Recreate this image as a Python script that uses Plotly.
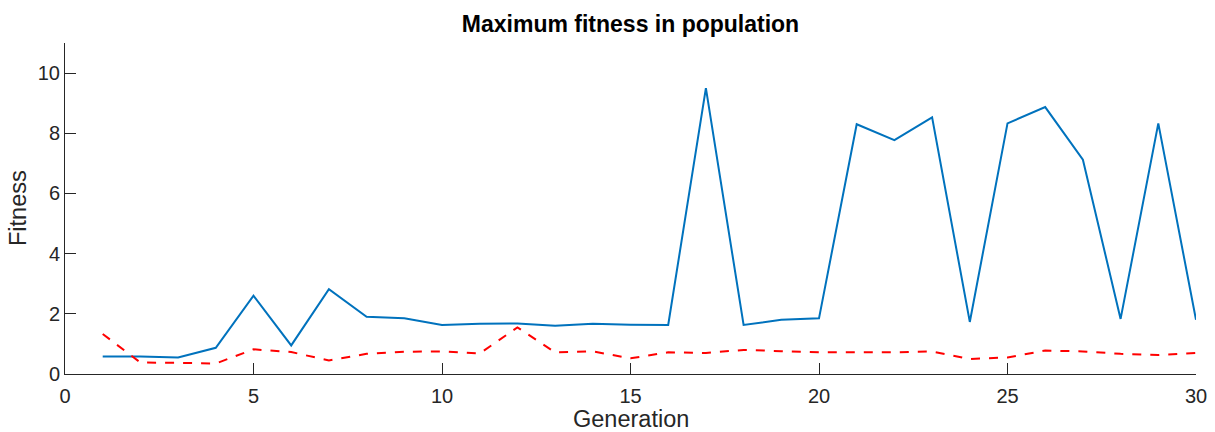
import plotly.graph_objects as go

generations = list(range(1, 31))
max_fitness = [0.58, 0.58, 0.55, 0.87, 2.6, 0.95, 2.82, 1.9, 1.85, 1.63,
               1.67, 1.68, 1.6, 1.67, 1.64, 1.63, 9.5, 1.63, 1.8, 1.85,
               8.3, 7.77, 8.53, 1.73, 8.33, 8.87, 7.12, 1.83, 8.33, 1.8]
other_fitness = [1.33, 0.38, 0.37, 0.35, 0.82, 0.73, 0.45, 0.67, 0.74, 0.75,
                 0.68, 1.55, 0.72, 0.75, 0.52, 0.72, 0.7, 0.8, 0.76, 0.72,
                 0.72, 0.72, 0.75, 0.5, 0.55, 0.78, 0.75, 0.67, 0.63, 0.7]
x_ticks = [0, 5, 10, 15, 20, 25, 30]
y_ticks = [0, 2, 4, 6, 8, 10]

fig = go.Figure()
fig.add_trace(go.Scatter(x=generations, y=max_fitness, mode="lines",
                         line=dict(color="#0072BD", width=2), showlegend=False))
fig.add_trace(go.Scatter(x=generations, y=other_fitness, mode="lines",
                         line=dict(color="#FF0000", width=2, dash="dash"), showlegend=False))

font_family = "Liberation Sans, Arial, Helvetica, sans-serif"
W, H = 1215, 432
L, R, T, B = 65, 19, 43, 58
plot_w, plot_h = W - L - R, H - T - B
fig.update_layout(
    width=W, height=H,
    margin=dict(l=L, r=R, t=T, b=B, autoexpand=False),
    plot_bgcolor="white", paper_bgcolor="white",
    font=dict(family=font_family, color="#262626"),
    title=dict(text="<b>Maximum fitness in population</b>", x=0.5, xanchor="center",
               xref="paper", y=1 - 24 / H, yanchor="middle",
               font=dict(size=23, color="black")),
    annotations=[
        dict(text="Generation", xref="paper", yref="paper", x=0.5,
             y=(H - B - 419) / plot_h, xanchor="center", yanchor="middle",
             showarrow=False, font=dict(size=23.5, color="#262626")),
        dict(text="Fitness", xref="paper", yref="paper", x=(18 - L) / plot_w,
             y=(H - B - 208) / plot_h, xanchor="center", yanchor="middle",
             textangle=-90, showarrow=False, font=dict(size=23.5, color="#262626")),
    ],
)
fig.update_xaxes(range=[0, 30], tickvals=x_ticks, ticks="inside", ticklen=11,
                 tickcolor="#262626", showline=True, linecolor="#262626", linewidth=1,
                 showgrid=False, zeroline=False, tickfont=dict(size=20),
                 ticklabelstandoff=4, automargin=False)
fig.update_yaxes(range=[0, 11], tickvals=y_ticks, ticks="inside", ticklen=11,
                 tickcolor="#262626", showline=True, linecolor="#262626", linewidth=1,
                 showgrid=False, zeroline=False, tickfont=dict(size=20),
                 automargin=False)

fig.write_html("out.html", config={"displayModeBar": False},
               post_script="document.body.style.margin='0';document.body.style.padding='0';")
